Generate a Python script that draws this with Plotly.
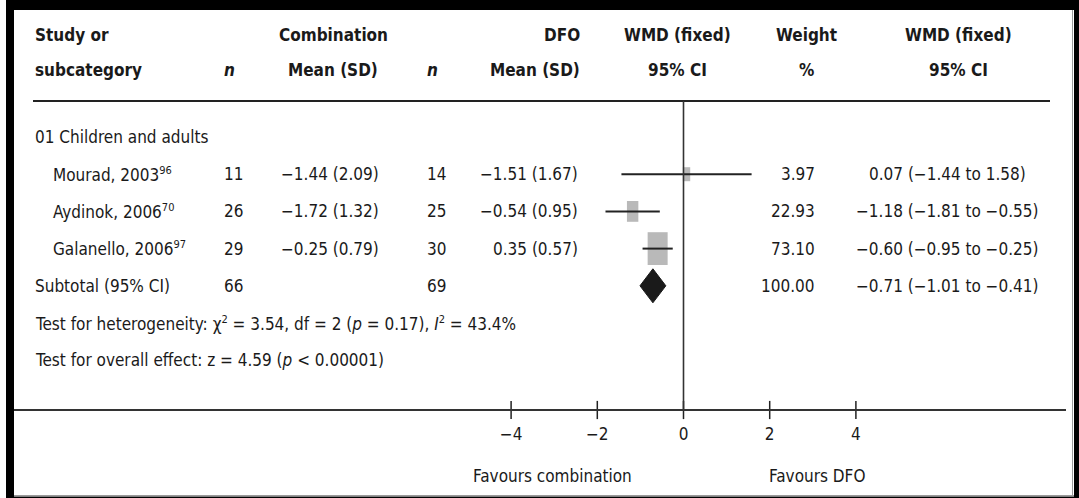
import plotly.graph_objects as go

# ---------------- data ----------------
studies = ["Mourad, 2003", "Aydinok, 2006", "Galanello, 2006"]
study_refs = ["96", "70", "97"]
n_comb = [11, 26, 29]
mean_sd_comb = ["−1.44 (2.09)", "−1.72 (1.32)", "−0.25 (0.79)"]
n_dfo = [14, 25, 30]
mean_sd_dfo = ["−1.51 (1.67)", "−0.54 (0.95)", "0.35 (0.57)"]
wmd = [0.07, -1.18, -0.60]
ci_lo = [-1.44, -1.81, -0.95]
ci_hi = [1.58, -0.55, -0.25]
weight = ["3.97", "22.93", "73.10"]
wmd_text = ["0.07 (−1.44 to 1.58)", "−1.18 (−1.81 to −0.55)", "−0.60 (−0.95 to −0.25)"]

subtotal_n_comb = 66
subtotal_n_dfo = 69
subtotal_wmd = -0.71
subtotal_lo = -1.01
subtotal_hi = -0.41
subtotal_weight = "100.00"
subtotal_text = "−0.71 (−1.01 to −0.41)"

tick_vals = [-4, -2, 0, 2, 4]

# ---------------- layout helpers ----------------
W, H = 1079, 498
PX_PER_UNIT = 43.1
ZERO_PX = 683.5
ROW0_PX = 137.0
ROW_STEP = 37.2
AXIS_PX = 410.0

def px(x):
    return x / W

def py(y):
    return 1 - y / H

FONT = "DejaVu Sans Condensed, Lato, sans-serif"
TXT = "#1a1a1a"
FS = 17
SUP = 11

def sup(s):
    return f'<sup><span style="font-size:{SUP}px">{s}</span></sup>'

def ital(s, size=FS):
    return f'<span style="font-style:italic;font-size:{size}px">{s}</span>'

study_rows = [1, 2, 3]
subtotal_row = 4
box_half_w_px = [3.7, 5.7, 10.0]
box_half_h_px = [7.0, 10.4, 16.4]

fig = go.Figure()

# boxes
for i, r in enumerate(study_rows):
    hw = box_half_w_px[i] / PX_PER_UNIT
    hh = box_half_h_px[i] / ROW_STEP
    fig.add_trace(go.Scatter(
        x=[wmd[i] - hw, wmd[i] + hw, wmd[i] + hw, wmd[i] - hw, wmd[i] - hw],
        y=[r - hh, r - hh, r + hh, r + hh, r - hh],
        mode="lines", fill="toself", fillcolor="#b9b9b9",
        line=dict(width=0, color="#b9b9b9"), hoverinfo="skip", showlegend=False))

# CI lines
cx, cy = [], []
for i, r in enumerate(study_rows):
    cx += [ci_lo[i], ci_hi[i], None]
    cy += [r, r, None]
fig.add_trace(go.Scatter(x=cx, y=cy, mode="lines", line=dict(color="#222222", width=2),
                         hoverinfo="skip", showlegend=False))

# diamond
dh = 17 / ROW_STEP
fig.add_trace(go.Scatter(
    x=[subtotal_lo, subtotal_wmd, subtotal_hi, subtotal_wmd, subtotal_lo],
    y=[subtotal_row, subtotal_row - dh, subtotal_row, subtotal_row + dh, subtotal_row],
    mode="lines", fill="toself", fillcolor="#1a1a1a", line=dict(color="#1a1a1a", width=1),
    hoverinfo="skip", showlegend=False))

y_top = -ROW0_PX / ROW_STEP
y_axis = (AXIS_PX - ROW0_PX) / ROW_STEP

# tick marks crossing the axis line
fig.add_trace(go.Scatter(x=tick_vals, y=[y_axis] * len(tick_vals), mode="markers",
                         marker=dict(symbol="line-ns", size=13, line=dict(color="#222222", width=1.5)),
                         cliponaxis=False, hoverinfo="skip", showlegend=False))

shapes = []
# borders
shapes.append(dict(type="rect", xref="paper", yref="paper", x0=px(6), x1=px(14), y0=py(498), y1=py(3),
                   fillcolor="black", line=dict(width=0)))
shapes.append(dict(type="rect", xref="paper", yref="paper", x0=px(6), x1=px(1079), y0=py(10), y1=py(0),
                   fillcolor="black", line=dict(width=0)))
shapes.append(dict(type="rect", xref="paper", yref="paper", x0=px(1074), x1=px(1079), y0=py(498), y1=py(0),
                   fillcolor="black", line=dict(width=0)))
shapes.append(dict(type="rect", xref="paper", yref="paper", x0=px(6), x1=px(1079), y0=py(498), y1=py(496.5),
                   fillcolor="black", line=dict(width=0)))
shapes.append(dict(type="line", xref="paper", yref="paper", x0=px(1072.5), x1=px(1072.5), y0=py(496), y1=py(10),
                   line=dict(color="#9a9a9a", width=1)))
shapes.append(dict(type="line", xref="paper", yref="paper", x0=px(14), x1=px(1074), y0=py(495.5), y1=py(495.5),
                   line=dict(color="#9a9a9a", width=1)))
# header rule
shapes.append(dict(type="line", xref="paper", yref="paper", x0=px(33), x1=px(1050), y0=py(101), y1=py(101),
                   line=dict(color="#222222", width=1.8)))
# axis line
shapes.append(dict(type="line", xref="paper", yref="paper", x0=px(14), x1=px(1066), y0=py(AXIS_PX), y1=py(AXIS_PX),
                   line=dict(color="#333333", width=2.2)))
# zero line
shapes.append(dict(type="line", xref="x", yref="paper", x0=0, x1=0, y0=py(AXIS_PX), y1=py(101),
                   line=dict(color="#333333", width=1.6), layer="above"))

ann = []
def txt(x, y, s, anchor="left", bold=False, yref="y", xref="paper", size=FS):
    ann.append(dict(x=x, y=y, xref=xref, yref=yref, text=s, showarrow=False,
                    xanchor=anchor, yanchor="middle",
                    font=dict(family=FONT, size=size, color=TXT,
                              weight="bold" if bold else "normal")))

# header
h1, h2 = py(35), py(70)
txt(px(33), h1, "Study or", bold=True, yref="paper")
txt(px(33), h2, "subcategory", bold=True, yref="paper")
txt(px(229), h2, ital("n"), anchor="center", bold=True, yref="paper")
txt(px(333), h1, "Combination", anchor="center", bold=True, yref="paper")
txt(px(333), h2, "Mean (SD)", anchor="center", bold=True, yref="paper")
txt(px(432), h2, ital("n"), anchor="center", bold=True, yref="paper")
txt(px(582), h1, "DFO", anchor="right", bold=True, yref="paper")
txt(px(582), h2, "Mean (SD)", anchor="right", bold=True, yref="paper")
txt(px(677), h1, "WMD (fixed)", anchor="center", bold=True, yref="paper")
txt(px(677), h2, "95% CI", anchor="center", bold=True, yref="paper")
txt(px(806), h1, "Weight", anchor="center", bold=True, yref="paper")
txt(px(806), h2, "%", anchor="center", bold=True, yref="paper")
txt(px(958), h1, "WMD (fixed)", anchor="center", bold=True, yref="paper")
txt(px(958), h2, "95% CI", anchor="center", bold=True, yref="paper")

txt(px(33), 0, "01 Children and adults")
for i, r in enumerate(study_rows):
    txt(px(51), r, studies[i] + sup(study_refs[i]))
    txt(px(222), r, str(n_comb[i]))
    txt(px(279), r, mean_sd_comb[i])
    txt(px(425), r, str(n_dfo[i]))
    txt(px(580), r, mean_sd_dfo[i], anchor="right")
    txt(px(817), r, weight[i], anchor="right")
    txt(px(947), r, wmd_text[i], anchor="center")
r = subtotal_row
txt(px(33), r, "Subtotal (95% CI)")
txt(px(222), r, str(subtotal_n_comb))
txt(px(425), r, str(subtotal_n_dfo))
txt(px(817), r, subtotal_weight, anchor="right")
txt(px(947), r, subtotal_text, anchor="center")
txt(px(33), 5, "Test for heterogeneity: χ" + sup("2") + " = 3.54, df = 2 (" + ital("p") + " = 0.17), "
    + ital("I") + sup("2") + " = 43.4%")
txt(px(33), 6, "Test for overall effect: z = 4.59 (" + ital("p") + " < 0.00001)")

txt(-3.03, py(476), "Favours combination", anchor="center", xref="x", yref="paper")
txt(3.1, py(476), "Favours DFO", anchor="center", xref="x", yref="paper")

fig.update_layout(
    width=W, height=H, margin=dict(l=0, r=0, t=0, b=0),
    paper_bgcolor="white", plot_bgcolor="white",
    shapes=shapes, annotations=ann, showlegend=False,
    xaxis=dict(domain=[0, 1], range=[-ZERO_PX / PX_PER_UNIT, (W - ZERO_PX) / PX_PER_UNIT],
               tickvals=tick_vals, showgrid=False, zeroline=False, showline=False,
               ticks="", ticklabelstandoff=12,
               tickfont=dict(family=FONT, size=FS, color=TXT)),
    yaxis=dict(domain=[1 - AXIS_PX / H, 1], range=[y_axis, y_top], visible=False,
               showgrid=False, zeroline=False),
)

fig.write_html("out.html")
